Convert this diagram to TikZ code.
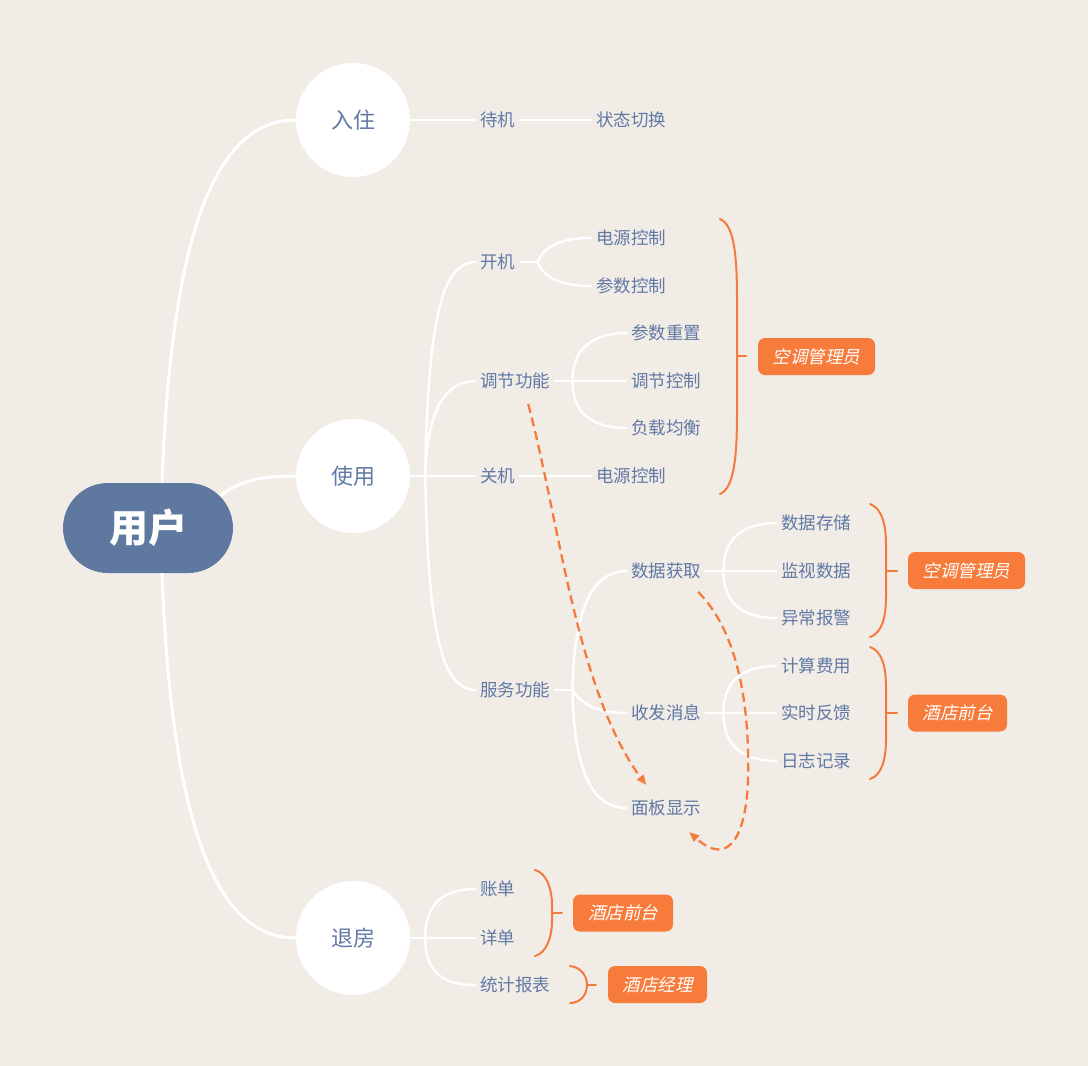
\documentclass[tikz,border=0pt]{standalone}
\usepackage{fontspec}
\newfontfamily\cjk{Noto Sans CJK SC}
\newfontfamily\cjkit[FakeSlant=0.22]{Noto Sans CJK SC}
\usetikzlibrary{arrows.meta}
\definecolor{bgc}{HTML}{F1ECE6}
\definecolor{rootc}{HTML}{5F78A0}
\definecolor{txtc}{HTML}{6179A5}
\definecolor{orc}{HTML}{F47B3B}
\definecolor{tagc}{HTML}{F77B3A}
\begin{document}
\begin{tikzpicture}[x=1pt,y=-1pt,
  rootn/.style={fill=rootc,rounded corners=45pt,minimum width=170pt,minimum height=90pt,inner sep=0pt,text=white,font=\cjk\bfseries\fontsize{39}{43}\selectfont},
  circ/.style={circle,fill=white,minimum size=114pt,inner sep=0pt,text=txtc,font=\cjk\fontsize{22}{26}\selectfont},
  lbl/.style={anchor=west,inner xsep=4pt,inner ysep=2pt,text=txtc,font=\cjk\fontsize{17.5}{20}\selectfont},
  tagn/.style={fill=tagc,rounded corners=7pt,text=white,minimum height=37pt,inner sep=0pt,font=\cjkit\fontsize{17.5}{20}\selectfont},
  mainbr/.style={draw=white,line width=3pt},
  br/.style={draw=white,line width=2.4pt},
  bracel/.style={draw=orc,line width=2pt,line cap=round},
  darr/.style={draw=orc,line width=2.3pt,dash pattern=on 9pt off 5pt,-{Triangle[length=10pt,width=8pt]}}
]
\fill[bgc] (0,0) rectangle (1088,1066);
\useasboundingbox (0,0) rectangle (1088,1066);

% main nodes
\node[rootn] (root) at (148,528) {用户};
\node[circ] (ruzhu) at (353,120) {入住};
\node[circ] (shiyong) at (353,476) {使用};
\node[circ] (tuifang) at (353,938) {退房};

% labels
\node[lbl] (daiji) at (476,120) {待机};
\node[lbl] (ztqh) at (592,120) {状态切换};
\node[lbl] (kaiji) at (476,262) {开机};
\node[lbl] (dykz1) at (592,238) {电源控制};
\node[lbl] (cskz) at (592,286) {参数控制};
\node[lbl] (tjgn) at (476,381) {调节功能};
\node[lbl] (cscz) at (627,333) {参数重置};
\node[lbl] (tjkz) at (627,381) {调节控制};
\node[lbl] (fzjh) at (627,428) {负载均衡};
\node[lbl] (guanji) at (476,476) {关机};
\node[lbl] (dykz2) at (592,476) {电源控制};
\node[lbl] (fwgn) at (476,690) {服务功能};
\node[lbl] (sjhq) at (627,571) {数据获取};
\node[lbl] (sfxx) at (627,713) {收发消息};
\node[lbl] (mbxs) at (627,808) {面板显示};
\node[lbl] (sjcc) at (777,523) {数据存储};
\node[lbl] (jssj) at (777,571) {监视数据};
\node[lbl] (ycbj) at (777,618) {异常报警};
\node[lbl] (jsfy) at (777,666) {计算费用};
\node[lbl] (ssfk) at (777,713) {实时反馈};
\node[lbl] (rzjl) at (777,761) {日志记录};
\node[lbl] (zd) at (476,889) {账单};
\node[lbl] (xd) at (476,938) {详单};
\node[lbl] (tjbb) at (476,985) {统计报表};

% tags
\node[tagn,minimum width=117pt] (tag1) at (816.5,356.5) {空调管理员};
\node[tagn,minimum width=117pt] (tag2) at (966.5,570.5) {空调管理员};
\node[tagn,minimum width=99pt] (tag3) at (957.5,713) {酒店前台};
\node[tagn,minimum width=100pt] (tag4) at (623,913) {酒店前台};
\node[tagn,minimum width=99pt] (tag5) at (657.5,984.5) {酒店经理};

% root connectors
\draw[mainbr] ([xshift=14pt]root.north) .. controls +(10,-263) and +(-76,0) .. (ruzhu.west);
\draw[mainbr] ([xshift=14pt]root.south) .. controls +(10,263) and +(-76,0) .. (tuifang.west);
\draw[mainbr] ([xshift=-13pt,yshift=-13pt]root.north east) .. controls +(20,-16) and +(-32,0) .. (shiyong.west);

% ruzhu
\draw[br] (ruzhu.east) -- (daiji.west);
\draw[br] (daiji.east) -- (ztqh.west);

% shiyong
\coordinate (b1) at ([xshift=15pt]shiyong.east);
\draw[br] (shiyong.east) -- (b1) -- (guanji.west);
\draw[br] (b1) .. controls +(3,-150) and +(-36,0) .. (kaiji.west);
\draw[br] (b1) .. controls +(2,-68) and +(-30,0) .. (tjgn.west);
\draw[br] (b1) .. controls +(3,150) and +(-36,0) .. (fwgn.west);

\coordinate (b2) at ([xshift=18pt]kaiji.east);
\draw[br] (kaiji.east) -- (b2);
\draw[br] (b2) .. controls +(8,-18) and +(-28,0) .. (dykz1.west);
\draw[br] (b2) .. controls +(8,18) and +(-28,0) .. (cskz.west);

\coordinate (b3) at ([xshift=18pt]tjgn.east);
\draw[br] (tjgn.east) -- (b3) -- (tjkz.west);
\draw[br] (b3) .. controls +(0,-36) and +(-30,0) .. (cscz.west);
\draw[br] (b3) .. controls +(0,36) and +(-30,0) .. (fzjh.west);

\draw[br] (guanji.east) -- (dykz2.west);

\coordinate (b4) at ([xshift=18pt]fwgn.east);
\draw[br] (fwgn.east) -- (b4);
\draw[br] (b4) .. controls +(2,-88) and +(-32,0) .. (sjhq.west);
\draw[br] (b4) .. controls +(10,16) and +(-26,0) .. (sfxx.west);
\draw[br] (b4) .. controls +(2,88) and +(-32,0) .. (mbxs.west);

\coordinate (b5) at ([xshift=18pt]sjhq.east);
\draw[br] (sjhq.east) -- (b5) -- (jssj.west);
\draw[br] (b5) .. controls +(0,-36) and +(-30,0) .. (sjcc.west);
\draw[br] (b5) .. controls +(0,36) and +(-30,0) .. (ycbj.west);

\coordinate (b6) at ([xshift=18pt]sfxx.east);
\draw[br] (sfxx.east) -- (b6) -- (ssfk.west);
\draw[br] (b6) .. controls +(0,-36) and +(-30,0) .. (jsfy.west);
\draw[br] (b6) .. controls +(0,36) and +(-30,0) .. (rzjl.west);

\coordinate (b7) at ([xshift=15pt]tuifang.east);
\draw[br] (tuifang.east) -- (b7) -- (xd.west);
\draw[br] (b7) .. controls +(0,-37) and +(-30,0) .. (zd.west);
\draw[br] (b7) .. controls +(0,37) and +(-30,0) .. (tjbb.west);

% braces
\draw[bracel] (720,219) .. controls (735,225) and (737,260) .. (737,300) -- (737,412) .. controls (737,452) and (735,488) .. (720,494);
\draw[bracel] (737,356) -- (746,356);
\draw[bracel] (870,504) .. controls (882,508) and (886,525) .. (886,545) -- (886,597) .. controls (886,617) and (882,633) .. (870,637);
\draw[bracel] (886,571) -- (897,571);
\draw[bracel] (870,647) .. controls (882,651) and (886,667) .. (886,687) -- (886,739) .. controls (886,759) and (882,775) .. (870,779);
\draw[bracel] (886,713) -- (897,713);
\draw[bracel] (535,870) .. controls (547,873) and (552,890) .. (552,905) -- (552,921) .. controls (552,936) and (547,953) .. (535,956);
\draw[bracel] (552,913) -- (562,913);
\draw[bracel] (570,966) .. controls (580,967) and (587,975) .. (587,985) .. controls (587,995) and (580,1003) .. (570,1003);
\draw[bracel] (587,985) -- (596,985);

% dashed arrows
\draw[darr] ([xshift=13pt,yshift=-23pt]tjgn.center) .. controls +(31,116) and +(-70,-95) .. ([xshift=-20pt,yshift=23pt]mbxs.center);
\coordinate (via) at (748,780);
\draw[darr] ([xshift=32pt,yshift=-21pt]sjhq.center) .. controls +(38,38) and +(2,-80) .. (via) .. controls +(-2,55) and +(40,36) .. ([xshift=23pt,yshift=-24pt]mbxs.center);
\end{tikzpicture}
\end{document}
